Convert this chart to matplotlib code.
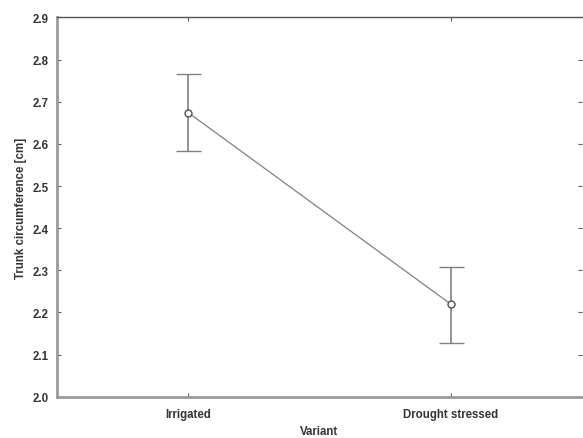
import numpy as np
import matplotlib.pyplot as plt

# values
variants = ["Irrigated", "Drought stressed"]
means = [2.674, 2.220]
upper = [2.765, 2.309]
lower = [2.582, 2.128]

plt.rcParams['font.family'] = ['Liberation Sans', 'DejaVu Sans']

fig = plt.figure(figsize=(5.83, 4.39), dpi=100)
ax = fig.add_axes([0.098, 0.094, 0.9, 0.864])

x = np.arange(len(variants))
yerr = [np.array(means) - np.array(lower), np.array(upper) - np.array(means)]

ax.errorbar(x, means, yerr=yerr, color='#808080', linewidth=0.9, elinewidth=1.2,
            capsize=9, capthick=1.2, marker='o', markersize=5,
            markerfacecolor='white', markeredgecolor='#505050', markeredgewidth=1.0)

ax.set_xlim(-0.5, 1.5)
ax.set_ylim(2.0, 2.9)
ax.set_yticks(np.arange(2.0, 2.91, 0.1))
ax.set_yticklabels([f"{v:.1f}" for v in np.arange(2.0, 2.91, 0.1)])
ax.set_xticks(x)
ax.set_xticklabels(variants)

ax.tick_params(direction='in', length=3, width=0.8, color='#606060',
               labelsize=8.3, labelcolor='#333333', top=True, right=True)
ax.tick_params(axis='x', pad=8)
ax.tick_params(axis='y', pad=6)
for lbl in ax.get_xticklabels() + ax.get_yticklabels():
    lbl.set_fontweight('bold')

for side in ['left', 'bottom']:
    ax.spines[side].set_color('#9a9a9a')
    ax.spines[side].set_linewidth(2.0)
ax.spines['top'].set_color('#555555')
ax.spines['top'].set_linewidth(1.0)
ax.spines['right'].set_visible(False)

ax.set_xlabel("Variant", fontsize=8.3, color='#333333', fontweight='bold', labelpad=4)
ax.set_ylabel("Trunk circumference [cm]", fontsize=8.3, color='#333333',
              fontweight='bold', labelpad=4)

fig.savefig("out.png", dpi=100)
